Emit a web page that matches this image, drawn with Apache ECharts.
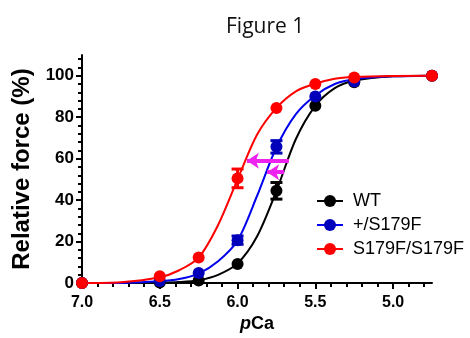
<!DOCTYPE html>
<html>
<head>
<meta charset="utf-8">
<script src="https://cdn.jsdelivr.net/npm/echarts@6/dist/echarts.min.js"></script>
<style>html,body{margin:0;padding:0;background:#fff}#c{width:470px;height:338px}</style>
</head>
<body>
<div id="c"></div>
<script>
const pCa = [7.0, 6.5, 6.25, 6.0, 5.75, 5.5, 5.25, 4.75];
const wt      = [0, 0.3, 1.3, 9.2, 44.5, 85.5, 96.8, 100];
const wtErr   = [0, 0, 0, 0, 4, 0, 0, 0];
const het     = [0, 1.0, 4.9, 20.7, 65.7, 90.0, 97.2, 100];
const hetErr  = [0, 0, 0, 2, 3, 0, 0, 0];
const hom     = [0, 3.3, 12.3, 50.5, 84.4, 96.0, 99.1, 100];
const homErr  = [0, 0, 0, 4.5, 0, 0, 0, 0];
// ---- fitted curves at these pCa values ----
const fitX   = [7.0, 6.75, 6.5, 6.375, 6.25, 6.125, 6.0, 5.875, 5.75, 5.625, 5.5, 5.375, 5.25, 5.0, 4.75];
const wtFit  = [0, 0.05, 0.2, 0.5, 1.4, 4.0, 9.5, 22.5, 44.5, 69.5, 85.5, 94.0, 97.6, 99.7, 100];
const hetFit = [0, 0.1, 0.9, 2.0, 4.6, 10.5, 20.5, 42.0, 65.5, 81.5, 90.5, 96.0, 98.3, 99.7, 100];
const homFit = [0, 0.4, 2.8, 6.2, 12.3, 28.0, 50.0, 71.5, 84.5, 92.5, 96.2, 98.6, 99.4, 99.9, 100];
const seriesNames = ['WT', '+/S179F', 'S179F/S179F'];
const xTickLabels = [7.0, 6.5, 6.0, 5.5, 5.0];
const yTickLabels = [0, 20, 40, 60, 80, 100];
// shift arrows: [from pCa, to pCa, force %]
const arrowBig   = [5.67, 5.94, 59];
const arrowSmall = [5.70, 5.81, 53.5];

const xMinor = []; for (let k = 48; k <= 70; k++) xMinor.push(k / 10);
const yMinor = []; for (let v = 0; v <= 108; v += 4) yMinor.push(v);

const lineColors = ['#000000', '#0000ee', '#ff0000'];
const markerColors = ['#000000', '#0000bb', '#ff0000'];
const values = [wt, het, hom];
const fits = [wtFit, hetFit, homFit];
const errs = [wtErr, hetErr, homErr];

const chart = echarts.init(document.getElementById('c'), null, {renderer: 'canvas'});
const FONT = 'Liberation Sans, Arial, sans-serif';

const series = [];
values.forEach((vals, i) => {
  series.push({
    type: 'line', name: seriesNames[i], xAxisIndex: 0, yAxisIndex: 0,
    data: fitX.map((x, j) => [x, fits[i][j]]),
    smooth: 0.3, showSymbol: false, symbol: 'circle',
    lineStyle: {color: lineColors[i], width: 2},
    itemStyle: {color: markerColors[i]},
    z: 3 + i, silent: true
  });
});
values.forEach((vals, i) => {
  series.push({
    type: 'scatter', name: seriesNames[i] + ' data', xAxisIndex: 0, yAxisIndex: 0,
    data: pCa.map((x, j) => [x, vals[j]]),
    symbol: 'circle', symbolSize: 12,
    itemStyle: {color: markerColors[i], opacity: 1},
    z: 6 + i
  });
  const eb = [];
  pCa.forEach((x, j) => { if (errs[i][j] > 0) eb.push([x, vals[j] - errs[i][j], vals[j] + errs[i][j]]); });
  series.push({
    type: 'custom', name: seriesNames[i] + ' err', xAxisIndex: 0, yAxisIndex: 0,
    data: eb, z: 10 + i,
    renderItem: function (params, api) {
      const x = api.value(0);
      const lo = api.coord([x, api.value(1)]);
      const hi = api.coord([x, api.value(2)]);
      const w = 6;
      const st = {stroke: markerColors[i], lineWidth: 3};
      return {type: 'group', children: [
        {type: 'line', shape: {x1: lo[0], y1: lo[1], x2: hi[0], y2: hi[1]}, style: st},
        {type: 'line', shape: {x1: lo[0] - w, y1: lo[1], x2: lo[0] + w, y2: lo[1]}, style: st},
        {type: 'line', shape: {x1: hi[0] - w, y1: hi[1], x2: hi[0] + w, y2: hi[1]}, style: st}
      ]};
    }
  });
});
series.push({
  type: 'lines', coordinateSystem: 'cartesian2d', xAxisIndex: 0, yAxisIndex: 0,
  z: 20, silent: true,
  symbol: ['none', 'arrow'], symbolSize: 12,
  lineStyle: {color: '#ee22ee', width: 4, opacity: 1},
  data: [
    {coords: [[arrowBig[0], arrowBig[2]], [arrowBig[1], arrowBig[2]]]},
    {coords: [[arrowSmall[0], arrowSmall[2]], [arrowSmall[1], arrowSmall[2]]]}
  ]
});

const option = {
  backgroundColor: '#fff',
  animation: false,
  title: {
    text: 'Figure 1', left: 221, top: 12,
    textStyle: {fontFamily: 'Open Sans', fontWeight: 'normal', fontSize: 21, color: '#111'}
  },
  legend: {
    data: seriesNames, orient: 'vertical', left: 311, top: 187,
    itemWidth: 26, itemHeight: 15, itemGap: 6,
    textStyle: {fontFamily: FONT, fontSize: 18, color: '#000', padding: [0, 0, 0, 5]}
  },
  grid: {left: 82, right: 38, top: 55, bottom: 51, containLabel: false},
  xAxis: [{
    type: 'value', min: 4.75, max: 7.0, inverse: true, position: 'bottom',
    name: '{i|p}Ca', nameLocation: 'middle', nameGap: 29,
    nameTextStyle: {fontFamily: FONT, fontSize: 18, fontWeight: 'bold', color: '#000',
      rich: {i: {fontFamily: FONT, fontSize: 18, fontWeight: 'bold', fontStyle: 'italic', color: '#000'}}},
    axisLine: {show: true, onZero: false, lineStyle: {color: '#000', width: 2}},
    axisTick: {show: true, customValues: xTickLabels, length: 6, lineStyle: {color: '#000', width: 2}},
    axisLabel: {customValues: xTickLabels, margin: 11, formatter: v => v.toFixed(1),
      fontFamily: FONT, fontSize: 16, fontWeight: 'bold', color: '#000'},
    splitLine: {show: false}
  }, {
    type: 'value', min: 4.75, max: 7.0, inverse: true, position: 'bottom', gridIndex: 0,
    axisLine: {show: false},
    axisTick: {show: true, customValues: xMinor, length: 4, lineStyle: {color: '#000', width: 2}},
    axisLabel: {show: false}, splitLine: {show: false}
  }],
  yAxis: [{
    type: 'value', min: 0, max: 110, position: 'left',
    name: 'Relative force (%)', nameLocation: 'middle', nameGap: 44,
    nameTextStyle: {fontFamily: FONT, fontSize: 24, fontWeight: 'bold', color: '#000'},
    axisLine: {show: true, onZero: false, lineStyle: {color: '#000', width: 2}},
    axisTick: {show: true, customValues: yTickLabels, length: 6, lineStyle: {color: '#000', width: 2}},
    axisLabel: {customValues: yTickLabels, margin: 8,
      fontFamily: FONT, fontSize: 17, fontWeight: 'bold', color: '#000'},
    splitLine: {show: false}
  }, {
    type: 'value', min: 0, max: 110, position: 'left', gridIndex: 0,
    axisLine: {show: false},
    axisTick: {show: true, customValues: yMinor, length: 4, lineStyle: {color: '#000', width: 2}},
    axisLabel: {show: false}, splitLine: {show: false}
  }],
  series: series
};
chart.setOption(option);
</script>
</body>
</html>
